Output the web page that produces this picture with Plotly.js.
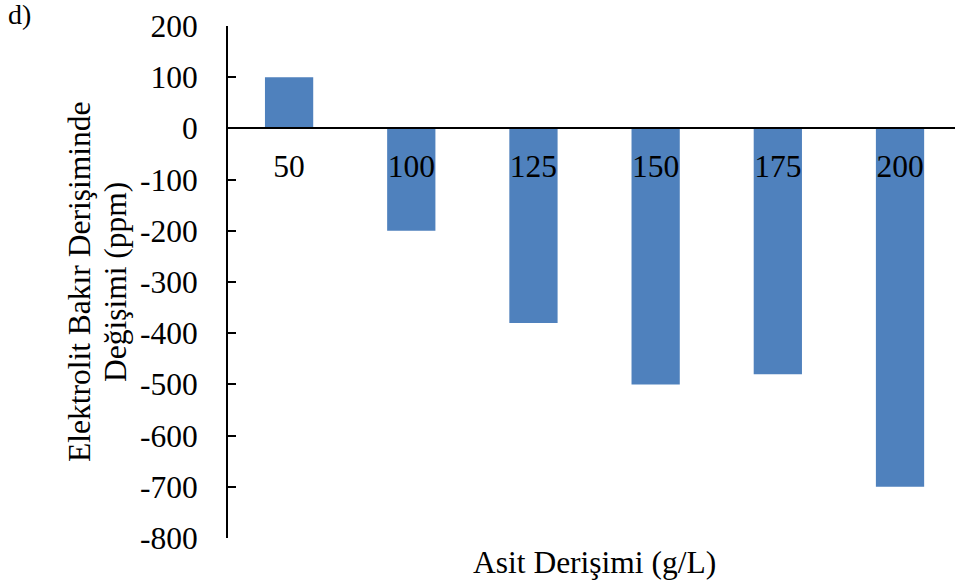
<!DOCTYPE html>
<html>
<head>
<meta charset="utf-8">
<script src="https://cdn.plot.ly/plotly-3.0.1.min.js"></script>
<style>
  html, body { margin: 0; padding: 0; background: #ffffff; }
  #chart { width: 955px; height: 587px; }
</style>
</head>
<body>
<div id="chart"></div>
<script>
// Acid concentration (g/L) and the change in electrolyte copper concentration (ppm)
const acidConcentrations = ['50', '100', '125', '150', '175', '200'];
const copperChange = [100, -200, -380, -500, -480, -700];
const yTickValues = [200, 100, 0, -100, -200, -300, -400, -500, -600, -700, -800];
const yTitleLines = ['Elektrolit Bakır Derişiminde', 'Değişimi (ppm)'];
const xTitle = 'Asit Derişimi (g/L)';
const panelLabel = 'd)';

const serif = 'Liberation Serif';
const textSize = 31.5;
const yMin = -800, yMax = 200;

const trace = {
  type: 'bar',
  x: acidConcentrations,
  y: copperChange,
  marker: { color: '#4F81BD', line: { width: 0 } },
  hoverinfo: 'x+y'
};

// two-line value-axis title, set with tighter line spacing than the default
const yTitleAnnotations = yTitleLines.map((line, i) => ({
  text: line,
  xref: 'paper', yref: 'paper',
  x: 0, y: 0.5,
  xshift: -149 + i * 36,
  xanchor: 'center', yanchor: 'middle',
  textangle: -90,
  showarrow: false,
  font: { family: serif, size: textSize, color: '#000000' }
}));

const layout = {
  width: 955,
  height: 587,
  margin: { l: 228, r: 0, t: 26, b: 49, pad: 0 },
  paper_bgcolor: '#ffffff',
  plot_bgcolor: '#ffffff',
  showlegend: false,
  bargap: 0.605,
  font: { family: serif, size: textSize, color: '#000000' },
  xaxis: {
    type: 'category',
    range: [-0.5, 5.45],
    anchor: 'free',
    // category axis crosses the value axis at zero
    position: (0 - yMin) / (yMax - yMin),
    showline: true,
    linecolor: '#000000',
    linewidth: 2,
    ticks: '',
    showgrid: false,
    zeroline: false,
    tickfont: { family: serif, size: textSize, color: '#000000' },
    ticklabelstandoff: 10
  },
  yaxis: {
    range: [yMin, yMax],
    tickmode: 'array',
    tickvals: yTickValues,
    ticktext: yTickValues.map(String),
    showline: true,
    linecolor: '#000000',
    linewidth: 2,
    ticks: 'inside',
    ticklen: 8,
    tickwidth: 2,
    tickcolor: '#000000',
    showgrid: false,
    zeroline: false,
    tickfont: { family: serif, size: textSize, color: '#000000' },
    ticklabelstandoff: 22
  },
  annotations: yTitleAnnotations.concat([
    {
      text: xTitle,
      xref: 'paper', yref: 'paper',
      x: 0.504, y: 0,
      xanchor: 'center', yanchor: 'top',
      yshift: -5,
      showarrow: false,
      font: { family: serif, size: textSize, color: '#000000' }
    },
    {
      text: panelLabel,
      xref: 'paper', yref: 'paper',
      x: 0, y: 1,
      xshift: -222, yshift: 29,
      xanchor: 'left', yanchor: 'top',
      showarrow: false,
      font: { family: serif, size: 28, color: '#000000' }
    }
  ])
};

Plotly.newPlot('chart', [trace], layout, { displayModeBar: false, staticPlot: true });
</script>
</body>
</html>
